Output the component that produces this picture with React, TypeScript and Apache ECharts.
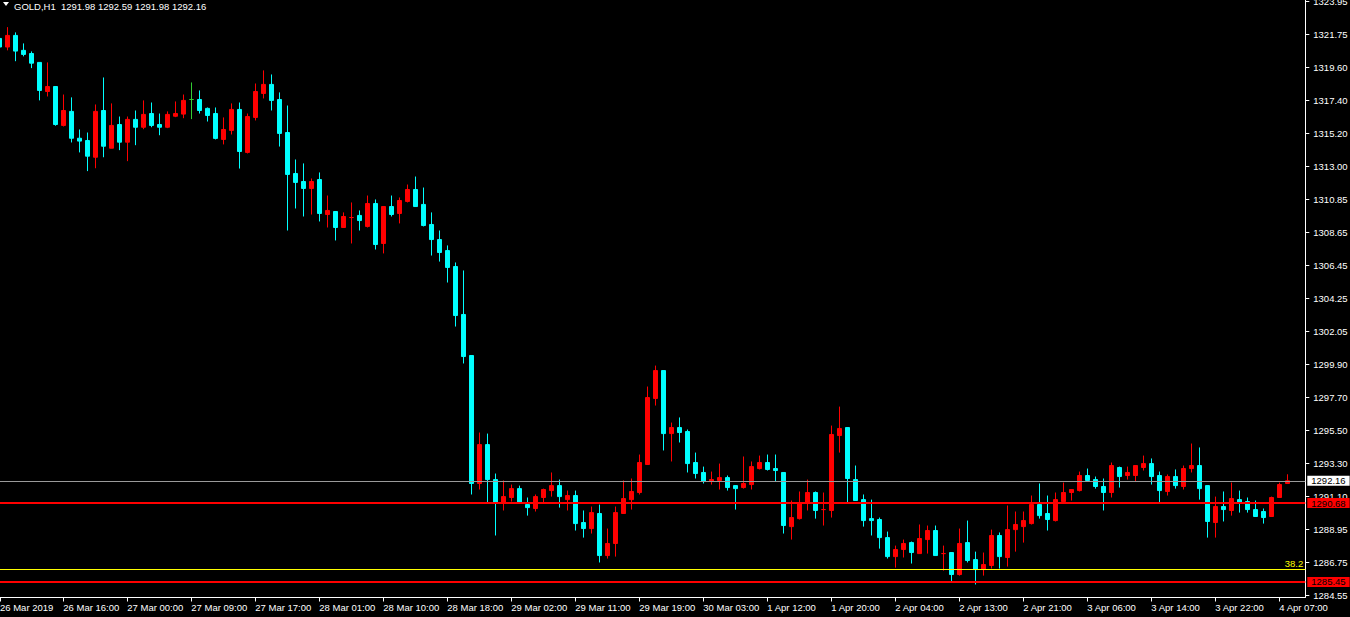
import React, { useEffect, useRef } from 'react';
import * as echarts from 'echarts';

const symbolName = 'GOLD';
const timeframe = 'H1';

// Hourly OHLC (bar 0 is partly hidden at the left edge)
const opens = [
  1321.50, 1320.93, 1321.70, 1320.71, 1320.50, 1319.91, 1317.98, 1318.31, 1315.73, 1316.66,
  1314.88, 1314.73, 1313.62, 1316.72, 1314.22, 1315.79, 1314.62, 1316.13, 1315.61, 1316.52,
  1315.79, 1315.61, 1316.34, 1316.48, 1317.45, 1317.45, 1316.86, 1316.52, 1314.80, 1315.40,
  1316.79, 1313.94, 1316.26, 1317.85, 1318.45, 1317.45, 1315.26, 1312.54, 1312.01, 1311.55,
  1312.14, 1309.82, 1310.02, 1308.96, 1309.62, 1309.76, 1309.03, 1310.55, 1307.90, 1310.35,
  1309.89, 1310.69, 1311.48, 1310.49, 1309.16, 1308.16, 1307.43, 1306.37, 1303.19, 1300.47,
  1291.98, 1294.56, 1292.24, 1290.72, 1291.05, 1291.64, 1290.58, 1290.32, 1291.05, 1291.51,
  1291.84, 1290.91, 1291.18, 1289.39, 1288.99, 1289.99, 1287.20, 1288.00, 1289.99, 1290.91,
  1291.38, 1293.24, 1297.62, 1299.47, 1295.29, 1295.69, 1295.43, 1293.37, 1292.71, 1292.11,
  1292.18, 1292.37, 1291.84, 1291.71, 1291.91, 1292.97, 1293.37, 1292.97, 1292.71, 1289.12,
  1289.65, 1290.65, 1291.38, 1290.25, 1290.19, 1295.16, 1295.69, 1292.24, 1290.91, 1289.65,
  1289.59, 1288.39, 1287.13, 1287.60, 1288.06, 1287.33, 1288.26, 1288.86, 1287.33, 1287.40,
  1285.94, 1288.06, 1286.93, 1286.27, 1286.54, 1288.53, 1287.07, 1288.92, 1289.12, 1289.32,
  1290.58, 1289.99, 1289.52, 1290.78, 1291.38, 1291.51, 1292.51, 1292.24, 1291.78, 1291.38,
  1293.04, 1292.51, 1292.51, 1293.04, 1293.30, 1292.51, 1291.45, 1292.44, 1291.78, 1292.97,
  1293.17, 1291.84, 1289.39, 1290.45, 1290.19, 1290.91, 1290.78, 1290.25, 1290.12, 1289.79,
  1291.05, 1291.98,
];
const highs = [
  1321.57, 1322.25, 1321.90, 1321.17, 1320.64, 1319.91, 1319.91, 1318.31, 1317.78, 1317.59,
  1315.46, 1315.26, 1317.12, 1318.91, 1317.19, 1316.32, 1316.32, 1316.72, 1317.39, 1317.25,
  1316.52, 1316.66, 1317.32, 1317.78, 1318.58, 1318.05, 1316.92, 1316.92, 1316.26, 1317.19,
  1317.25, 1316.52, 1318.51, 1319.38, 1319.11, 1317.92, 1317.05, 1313.47, 1313.21, 1312.21,
  1312.61, 1311.08, 1310.02, 1309.96, 1310.62, 1310.09, 1311.08, 1310.82, 1310.35, 1311.08,
  1310.95, 1311.81, 1312.34, 1311.61, 1309.96, 1308.76, 1307.77, 1306.64, 1306.11, 1300.47,
  1295.36, 1295.29, 1292.64, 1292.18, 1291.91, 1291.84, 1291.05, 1291.25, 1291.64, 1292.71,
  1292.24, 1291.51, 1291.51, 1290.19, 1290.45, 1290.58, 1288.99, 1290.45, 1292.18, 1292.31,
  1293.90, 1298.41, 1299.80, 1299.47, 1296.02, 1296.36, 1295.56, 1294.03, 1293.10, 1292.77,
  1293.30, 1292.51, 1291.84, 1293.77, 1293.44, 1293.83, 1293.90, 1293.90, 1292.71, 1290.85,
  1291.45, 1292.24, 1291.45, 1291.38, 1295.82, 1297.08, 1295.69, 1293.17, 1291.25, 1290.91,
  1289.72, 1288.79, 1287.86, 1288.26, 1288.13, 1289.26, 1289.19, 1289.19, 1287.86, 1287.40,
  1288.99, 1289.52, 1287.46, 1287.40, 1288.92, 1288.73, 1290.52, 1290.12, 1290.12, 1291.18,
  1291.98, 1291.18, 1291.38, 1292.04, 1291.58, 1292.77, 1292.97, 1292.44, 1292.31, 1293.37,
  1293.10, 1293.10, 1293.17, 1293.83, 1293.64, 1292.77, 1292.58, 1292.91, 1293.17, 1294.63,
  1294.37, 1291.84, 1291.11, 1291.45, 1292.04, 1291.51, 1291.05, 1290.85, 1290.32, 1291.11,
  1292.04, 1292.59,
];
const lows = [
  1320.91, 1320.71, 1319.99, 1320.31, 1319.53, 1317.39, 1317.65, 1315.71, 1315.66, 1314.60,
  1313.94, 1312.70, 1312.89, 1313.62, 1314.22, 1314.09, 1313.36, 1314.42, 1315.48, 1315.61,
  1315.08, 1315.55, 1316.28, 1316.21, 1316.15, 1316.52, 1315.99, 1314.80, 1314.47, 1315.13,
  1312.87, 1313.87, 1316.06, 1317.52, 1316.72, 1314.33, 1308.76, 1310.22, 1309.69, 1309.82,
  1309.36, 1308.96, 1308.10, 1308.96, 1307.90, 1308.76, 1308.96, 1307.50, 1307.24, 1309.69,
  1309.23, 1310.62, 1310.35, 1309.03, 1307.10, 1306.70, 1305.31, 1302.39, 1299.94, 1291.25,
  1291.58, 1290.72, 1288.53, 1290.19, 1290.78, 1290.72, 1289.85, 1290.12, 1290.72, 1291.11,
  1290.38, 1290.19, 1288.86, 1288.39, 1288.66, 1286.74, 1287.00, 1287.13, 1289.99, 1290.25,
  1291.25, 1293.24, 1297.15, 1294.17, 1293.44, 1294.70, 1292.71, 1292.31, 1291.98, 1291.91,
  1291.58, 1291.51, 1290.25, 1291.64, 1291.58, 1292.91, 1292.84, 1292.11, 1288.66, 1288.26,
  1289.59, 1290.19, 1289.65, 1289.19, 1289.72, 1294.03, 1290.72, 1290.85, 1289.12, 1288.53,
  1287.66, 1287.00, 1286.40, 1287.07, 1286.67, 1287.33, 1287.33, 1287.20, 1286.20, 1285.47,
  1285.87, 1286.74, 1285.28, 1285.87, 1286.34, 1286.34, 1286.47, 1287.46, 1288.06, 1289.26,
  1289.65, 1288.86, 1289.46, 1290.78, 1290.85, 1291.45, 1292.18, 1291.64, 1290.19, 1291.05,
  1291.71, 1292.24, 1292.11, 1292.84, 1291.91, 1290.72, 1291.18, 1291.64, 1291.58, 1292.71,
  1290.91, 1288.39, 1288.39, 1289.46, 1289.85, 1290.05, 1290.05, 1289.79, 1289.32, 1289.79,
  1291.05, 1291.98,
];
const closes = [
  1320.93, 1321.70, 1320.66, 1320.44, 1319.86, 1318.05, 1318.31, 1315.79, 1316.72, 1314.88,
  1314.69, 1313.69, 1316.66, 1314.35, 1315.73, 1314.62, 1316.13, 1315.61, 1316.46, 1315.73,
  1315.61, 1316.46, 1316.52, 1317.39, 1317.45, 1316.72, 1316.39, 1314.87, 1315.46, 1316.79,
  1314.00, 1316.32, 1317.98, 1318.45, 1317.39, 1315.20, 1312.48, 1311.95, 1311.55, 1312.01,
  1309.89, 1310.09, 1308.96, 1309.69, 1309.62, 1309.42, 1310.55, 1307.83, 1310.35, 1309.82,
  1310.75, 1311.48, 1310.35, 1309.09, 1308.16, 1307.30, 1306.31, 1303.12, 1300.40, 1291.98,
  1294.56, 1292.24, 1290.72, 1291.11, 1291.64, 1290.72, 1290.38, 1291.11, 1291.58, 1291.84,
  1291.11, 1291.18, 1289.32, 1288.99, 1290.05, 1287.20, 1288.00, 1290.05, 1290.98, 1291.45,
  1293.37, 1297.68, 1299.47, 1295.29, 1295.69, 1295.36, 1293.30, 1292.64, 1292.11, 1292.24,
  1292.37, 1291.71, 1291.64, 1291.98, 1293.10, 1293.37, 1292.91, 1292.84, 1289.19, 1289.72,
  1290.65, 1291.38, 1290.19, 1290.25, 1295.23, 1295.63, 1292.31, 1290.85, 1289.52, 1289.52,
  1288.39, 1287.13, 1287.60, 1288.00, 1287.40, 1288.33, 1288.86, 1287.20, 1287.33, 1285.94,
  1288.00, 1286.87, 1286.27, 1286.60, 1288.53, 1287.13, 1288.92, 1289.26, 1289.52, 1290.58,
  1289.85, 1289.59, 1290.91, 1291.38, 1291.58, 1292.51, 1292.18, 1291.78, 1291.38, 1293.17,
  1292.44, 1292.71, 1293.17, 1293.30, 1292.44, 1291.51, 1292.44, 1291.84, 1292.97, 1293.17,
  1291.64, 1289.46, 1290.45, 1290.25, 1290.98, 1290.72, 1290.25, 1289.79, 1289.72, 1291.05,
  1291.91, 1292.16,
];

// Doji drawn in the chart's line colour instead of the bull colour
const greenDojiBars = [24];

// Time-scale labels, one every 8 bars starting at bar 0
const labelEveryBars = 8;
const timeLabels = [
  '26 Mar 2019', '26 Mar 16:00', '27 Mar 00:00', '27 Mar 09:00', '27 Mar 17:00',
  '28 Mar 01:00', '28 Mar 10:00', '28 Mar 18:00', '29 Mar 02:00', '29 Mar 11:00',
  '29 Mar 19:00', '30 Mar 03:00', '1 Apr 12:00', '1 Apr 20:00', '2 Apr 04:00',
  '2 Apr 13:00', '2 Apr 21:00', '3 Apr 06:00', '3 Apr 14:00', '3 Apr 22:00',
  '4 Apr 07:00',
];

// Price-scale labels, bottom to top (evenly spaced between first and last)
const priceTickLabels = [
  '1284.55', '1286.75', '1288.95', '1291.10', '1293.30', '1295.50', '1297.70',
  '1299.90', '1302.05', '1304.25', '1306.45', '1308.65', '1310.85', '1313.00',
  '1315.20', '1317.40', '1319.60', '1321.75', '1323.95',
];
const priceTickFirst = 1284.55;
const priceTickLast = 1323.95;

// Horizontal levels
const bidPrice = 1292.16;
const redLevels = [1290.68, 1285.45];
const fiboName = '38.2';
const fiboPrice = 1286.28;

const FONT = "'Liberation Sans', Arial, sans-serif";
const BULL = '#ff0000';
const BEAR = '#00ffff';
const DOJI_GREEN = '#32cd32';
const X_MIN = 0.0838;
const X_MAX = 163.25;

export default function App() {
  const ref = useRef<HTMLDivElement | null>(null);

  useEffect(() => {
    if (!ref.current) return;
    const chart = echarts.init(ref.current, undefined, { renderer: 'svg' });

    const step = (priceTickLast - priceTickFirst) / (priceTickLabels.length - 1);
    const yTicks = priceTickLabels.map((_, k) => priceTickFirst + k * step);
    const xTicks = timeLabels.map((_, k) => Math.max(k * labelEveryBars, X_MIN));

    const data = opens.map((o, i) => {
      const item: any = { value: [i, o, closes[i], lows[i], highs[i]] };
      if (greenDojiBars.includes(i)) {
        item.itemStyle = { borderColorDoji: DOJI_GREEN, borderColor: DOJI_GREEN, borderColor0: DOJI_GREEN };
      }
      return item;
    });

    const last = opens.length - 1;
    const header = `${symbolName},${timeframe}  ${opens[last].toFixed(2)} ${highs[last].toFixed(2)} ${lows[last].toFixed(2)} ${closes[last].toFixed(2)}`;

    const boxLabel = (price: number, bg: string) => ({
      show: true,
      position: 'end',
      distance: 2,
      formatter: price.toFixed(2),
      backgroundColor: bg,
      color: '#000',
      fontSize: 9.5,
      fontFamily: FONT,
      lineHeight: 10,
      padding: [0, 4, 0, 4],
    });

    const option: any = {
      animation: false,
      backgroundColor: '#000000',
      textStyle: { fontFamily: FONT },
      grid: { left: 0, right: 44.7, top: 0, bottom: 19.5, containLabel: false, outerBoundsMode: 'none' },
      xAxis: {
        type: 'value',
        min: X_MIN,
        max: X_MAX,
        axisLine: { show: true, onZero: false, lineStyle: { color: '#ffffff', width: 1 } },
        axisTick: { show: true, customValues: xTicks, length: 4, lineStyle: { color: '#ffffff' } },
        axisLabel: {
          customValues: xTicks,
          formatter: (v: number) => timeLabels[Math.round(v / labelEveryBars)] ?? '',
          color: '#ffffff',
          fontSize: 9.5,
          fontFamily: FONT,
          align: 'left',
          margin: 5,
        },
        splitLine: { show: false },
      },
      yAxis: {
        type: 'value',
        position: 'right',
        min: 1284.4173,
        max: 1324.0495,
        axisLine: { show: true, onZero: false, lineStyle: { color: '#ffffff', width: 1 } },
        axisTick: { show: true, customValues: yTicks, length: 4, lineStyle: { color: '#ffffff' } },
        axisLabel: {
          customValues: yTicks,
          formatter: (v: number) => priceTickLabels[Math.round((v - priceTickFirst) / step)] ?? '',
          color: '#ffffff',
          fontSize: 9.5,
          fontFamily: FONT,
          align: 'left',
          margin: 8,
        },
        splitLine: { show: false },
      },
      graphic: [
        { type: 'polygon', shape: { points: [[3, 2], [9, 2], [6, 6]] }, style: { fill: '#ffffff' } },
        {
          type: 'text', x: 14, y: 1,
          style: { text: header, fill: '#ffffff', fontSize: 9.5, fontFamily: FONT, verticalAlign: 'top', align: 'left' },
        },
      ],
      series: [
        {
          type: 'candlestick',
          data,
          encode: { x: 0, y: [1, 2, 3, 4] },
          barWidth: 4,
          itemStyle: {
            color: BULL,
            color0: BEAR,
            borderColor: BULL,
            borderColor0: BEAR,
            borderColorDoji: BULL,
            borderWidth: 1,
          },
          markLine: {
            silent: true,
            symbol: ['none', 'none'],
            animation: false,
            emphasis: { disabled: true },
            data: [
              {
                yAxis: fiboPrice,
                lineStyle: { color: '#ffff00', width: 1, type: 'solid' },
                label: {
                  show: true, position: 'insideEndTop', distance: [2, 1], formatter: fiboName,
                  color: '#ffff00', fontSize: 9.5, fontFamily: FONT,
                },
              },
              {
                yAxis: bidPrice,
                lineStyle: { color: '#9a9a9a', width: 1, type: 'solid' },
                label: boxLabel(bidPrice, '#ffffff'),
              },
              ...redLevels.map((p) => ({
                yAxis: p,
                lineStyle: { color: '#ff0000', width: 2, type: 'solid' },
                label: boxLabel(p, '#ff0000'),
              })),
            ],
          },
        },
      ],
    };

    chart.setOption(option);
    return () => chart.dispose();
  }, []);

  return (
    <div
      ref={ref}
      style={{ position: 'fixed', left: 0, top: 0, width: 1350, height: 617, background: '#000' }}
    />
  );
}
